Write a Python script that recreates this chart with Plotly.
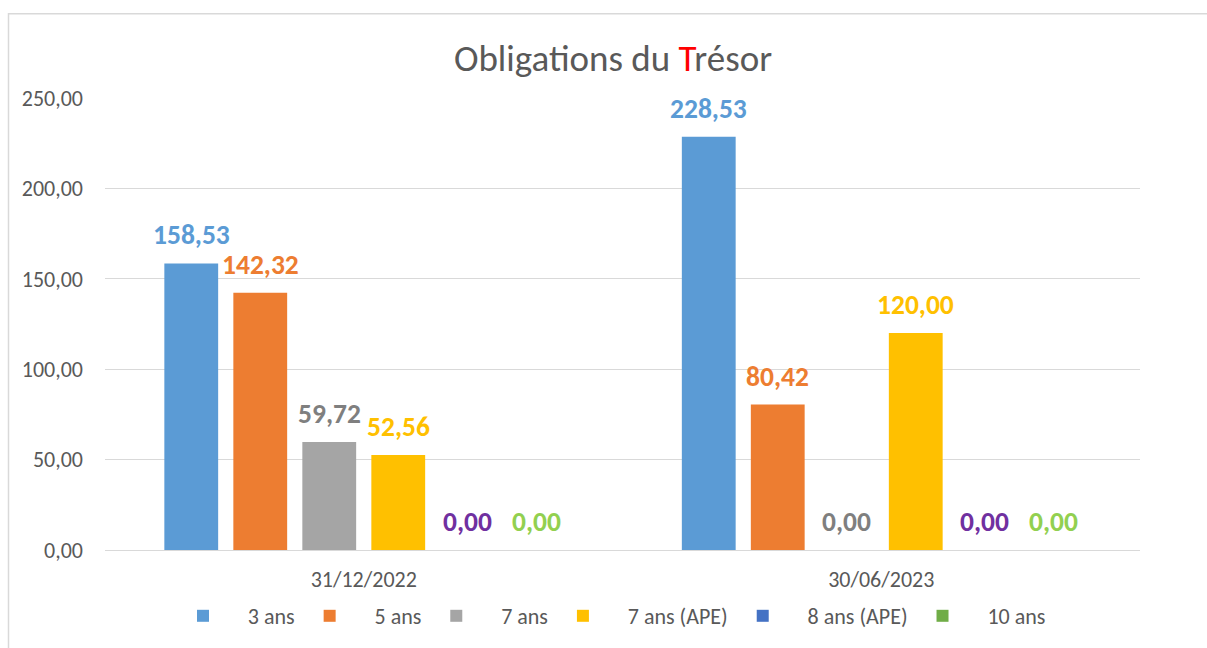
import plotly.graph_objects as go

categories = ["31/12/2022", "30/06/2023"]
series_names = ["3 ans", "5 ans", "7 ans", "7 ans (APE)", "8 ans (APE)", "10 ans"]
values_3ans = [158.53, 228.53]
values_5ans = [142.32, 80.42]
values_7ans = [59.72, 0.00]
values_7ans_ape = [52.56, 120.00]
values_8ans_ape = [0.00, 0.00]
values_10ans = [0.00, 0.00]
y_ticks = [0, 50, 100, 150, 200, 250]

all_values = [values_3ans, values_5ans, values_7ans, values_7ans_ape, values_8ans_ape, values_10ans]
bar_colors = ["#5B9BD5", "#ED7D31", "#A5A5A5", "#FFC000", "#4472C4", "#70AD47"]
label_colors = ["#5B9BD5", "#ED7D31", "#7F7F7F", "#FFC000", "#7030A0", "#92D050"]

FONT = "Carlito, Calibri, Lato, sans-serif"
NB = "\u00a0"
BARGAP = 0.2
GROUPGAP = 0.22
cat_pos = list(range(len(categories)))

fig = go.Figure()
n = len(series_names)
annotations = []
for i, (name, vals) in enumerate(zip(series_names, all_values)):
    fig.add_trace(go.Bar(
        x=cat_pos, y=vals, name=NB * 5 + name + NB * 2,
        marker=dict(color=bar_colors[i], line=dict(width=0)),
    ))
    for k, v in zip(cat_pos, vals):
        annotations.append(dict(
            x=k + (i - (n - 1) / 2) * (1 - BARGAP) / n, y=v,
            xref="x", yref="y", text=f"{v:.2f}".replace(".", ","),
            showarrow=False, yanchor="bottom", yshift=10,
            font=dict(family=FONT, size=27.5, color=label_colors[i], weight="bold"),
        ))

fig.update_layout(
    width=1207, height=648,
    margin=dict(l=105, r=67, t=98, b=97),
    paper_bgcolor="white", plot_bgcolor="white",
    barmode="group", bargap=BARGAP, bargroupgap=GROUPGAP,
    separators=", ",
    font=dict(family=FONT, color="#595959"),
    title=dict(
        text="Obligations du <span style='color:#FF0000'>T</span>résor",
        x=613 / 1207, xref="container", xanchor="center",
        y=1 - 58 / 648, yref="container", yanchor="middle",
        font=dict(family=FONT, size=37, color="#595959"),
    ),
    xaxis=dict(
        range=[-0.5, 1.5], tickvals=cat_pos, ticktext=categories,
        showgrid=False, zeroline=False, showline=False, ticks="",
        tickfont=dict(family=FONT, size=22, color="#595959"),
        ticklabelstandoff=14,
    ),
    yaxis=dict(
        range=[0, 250], tickvals=y_ticks, tickformat=".2f",
        showgrid=True, gridcolor="#D9D9D9", gridwidth=1,
        zeroline=True, zerolinecolor="#D9D9D9", zerolinewidth=1,
        showline=False, ticks="",
        tickfont=dict(family=FONT, size=22, color="#595959"),
        ticklabelstandoff=21,
    ),
    legend=dict(
        orientation="h", x=(622 - 105) / 1035, xanchor="center",
        y=(551 - 616) / 453, yanchor="middle",
        font=dict(family=FONT, size=22, color="#595959"),
        itemclick=False,
    ),
    annotations=annotations,
    shapes=[dict(
        type="rect", xref="paper", yref="paper",
        x0=(8.5 - 105) / 1035, x1=(1215 - 105) / 1035,
        y0=(551 - 660) / 453, y1=(551 - 13.5) / 453,
        line=dict(color="#D9D9D9", width=1.5), fillcolor="rgba(0,0,0,0)",
        layer="below",
    )],
)

fig.write_html("out.html", config={"displayModeBar": False},
               post_script="document.body.style.margin='0px';")
